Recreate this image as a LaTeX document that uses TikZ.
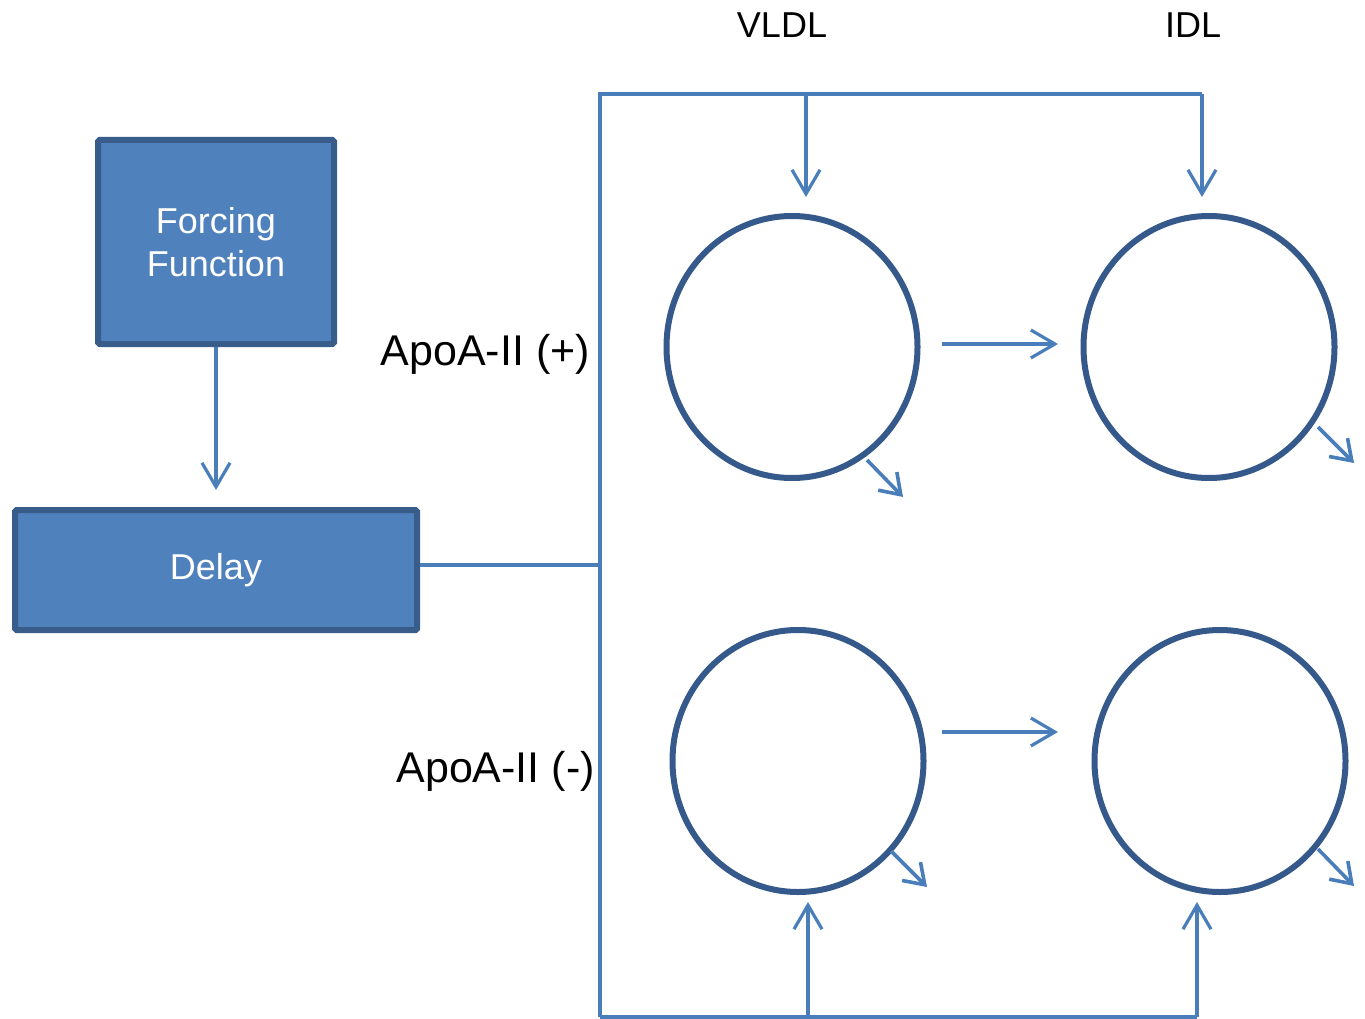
\documentclass[tikz,border=0pt]{standalone}
\usepackage{fontspec}
\setmainfont{Liberation Sans}
\usetikzlibrary{arrows.meta,shapes.geometric}
\definecolor{boxfill}{HTML}{4F81BD}
\definecolor{boxline}{HTML}{385D8A}
\definecolor{conn}{HTML}{4A7EBB}
\definecolor{ring}{HTML}{35598A}
\begin{document}
\begin{tikzpicture}[x=1pt,y=-1pt,
  blockbox/.style={draw=boxline,fill=boxfill,line width=6pt,rounded corners=1.5pt,
    text=white,font=\fontsize{36}{43}\selectfont,align=center,inner sep=0pt},
  pool/.style={draw=ring,line width=6pt,ellipse,inner sep=0pt,minimum width=251pt,minimum height=262pt},
  wire/.style={draw=conn,line width=3.2pt},
  arr/.style={wire,-{Straight Barb[length=24pt,width=28pt]}},
  sarr/.style={draw=conn,line width=3.6pt,-{Straight Barb[length=19pt,width=26pt]}},
  lbl/.style={font=\fontsize{43}{50}\selectfont,inner sep=0pt},
  hdr/.style={font=\fontsize{36}{43}\selectfont,inner sep=0pt}]
\useasboundingbox (0,0) rectangle (1365,1019);

% boxes
\node[blockbox,minimum width=236pt,minimum height=204pt] (ff) at (216,242) {Forcing\\Function};
\node[blockbox,minimum width=402pt,minimum height=120pt] (delay) at (216,570) {Delay};

% pools
\node[pool] (c1) at (792,347) {};
\node[pool] (c2) at (1209,347) {};
\node[pool] (c3) at (798,761) {};
\node[pool] (c4) at (1220,761) {};

% labels
\node[hdr] (vldl) at (782,25) {VLDL};
\node[hdr] (idl) at (1193,25) {IDL};
\node[lbl,anchor=east] (plus) at (590,354) {ApoA-II (+)};
\node[lbl,anchor=east] (minus) at (595,771) {ApoA-II (-)};

% junction coordinates
\coordinate (tl) at (600,94);
\coordinate (tv) at (806,94);
\coordinate (tr) at (1202,94);
\coordinate (bl) at (600,1017);
\coordinate (bv) at (808,1017);
\coordinate (br) at (1197,1017);
\coordinate (tva) at (806,197);
\coordinate (tra) at (1202,197);
\coordinate (bva) at (808,902);
\coordinate (bra) at (1197,902);
\coordinate (ffa) at (216,490);
\coordinate (dout) at ([yshift=5pt]delay.east);

% forcing -> delay
\draw[arr] (ff.south) -- (ffa);
% delay to bus
\draw[wire] (dout) -- (dout -| tl);
\draw[wire] (bl) -- (tl) -- (tr);
\draw[arr] (tr) -- (tra);
\draw[arr] (tv) -- (tva);
\draw[wire] (bl) -- (br);
\draw[arr] (br) -- (bra);
\draw[arr] (bv) -- (bva);

% transfer arrows
\coordinate (h1s) at (942,344);
\coordinate (h1e) at (1058,344);
\coordinate (h2s) at (942,732);
\coordinate (h2e) at (1058,732);
\draw[arr] (h1s) -- (h1e);
\draw[arr] (h2s) -- (h2e);

% loss arrows
\coordinate (o1s) at (867,460); \coordinate (o1e) at (903,497);
\coordinate (o2s) at (1318,427); \coordinate (o2e) at (1354,463);
\coordinate (o3s) at (891,851); \coordinate (o3e) at (927,887);
\coordinate (o4s) at (1318,849); \coordinate (o4e) at (1354,886);
\draw[sarr] (o1s) -- (o1e);
\draw[sarr] (o2s) -- (o2e);
\draw[sarr] (o3s) -- (o3e);
\draw[sarr] (o4s) -- (o4e);
\end{tikzpicture}
\end{document}
